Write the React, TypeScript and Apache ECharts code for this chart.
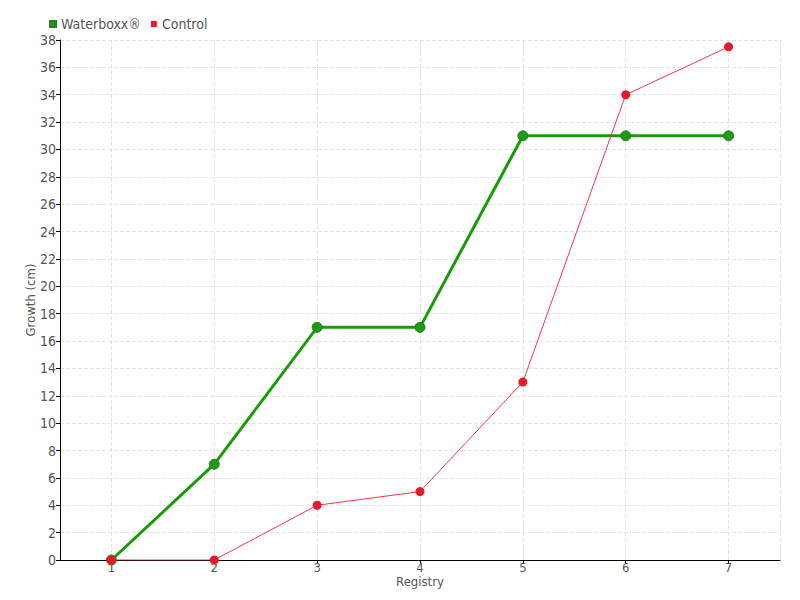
import React, { useEffect, useRef } from "react";
import * as echarts from "echarts";

const registries = [1, 2, 3, 4, 5, 6, 7];
const waterboxx = [0, 7, 17, 17, 31, 31, 31];
const control = [0, 0, 4, 5, 13, 34, 37.5];
const seriesNames = ["Waterboxx®", "Control"];

const FONT = "'DejaVu Sans Condensed', 'Liberation Sans Narrow', sans-serif";

export default function App() {
  const ref = useRef<HTMLDivElement>(null);
  useEffect(() => {
    if (!ref.current) return;
    const chart = echarts.init(ref.current, undefined, { renderer: "svg" });
    chart.setOption({
      animation: false,
      textStyle: { fontFamily: FONT },
      legend: {
        left: 44,
        top: 12,
        itemWidth: 6,
        itemHeight: 6,
        itemGap: 10,
        icon: "rect",
        textStyle: { fontFamily: FONT, fontSize: 14, color: "#555" },
        data: seriesNames,
      },
      grid: { left: 60, right: 20, top: 40, bottom: 40 },
      xAxis: {
        type: "value",
        min: 0.5,
        max: 7.5,
        splitNumber: 7,
        name: "Registry",
        nameLocation: "middle",
        nameGap: 15,
        nameMoveOverlap: false,
        nameTextStyle: { fontFamily: FONT, fontSize: 13, color: "#555" },
        axisLine: { lineStyle: { color: "#000" } },
        axisTick: { show: true, length: 4, inside: false, lineStyle: { color: "#000" } },
        axisLabel: {
          showMinLabel: false,
          showMaxLabel: false,
          margin: 1,
          fontFamily: FONT,
          fontSize: 13,
          color: "#555",
          formatter: (v: number) => (Number.isInteger(v) ? String(v) : ""),
        },
        splitLine: { show: true, lineStyle: { color: "#e4e4e4", type: "dashed" } },
      },
      yAxis: {
        type: "value",
        min: 0,
        max: 38,
        interval: 2,
        name: "Growth (cm)",
        nameLocation: "middle",
        nameGap: 23,
        nameMoveOverlap: false,
        nameTextStyle: { fontFamily: FONT, fontSize: 13, color: "#555" },
        axisLine: { show: true, lineStyle: { color: "#000" } },
        axisTick: { show: true, length: 4, lineStyle: { color: "#000" } },
        axisLabel: { margin: 4, fontFamily: FONT, fontSize: 14, color: "#555" },
        splitLine: { show: true, lineStyle: { color: "#e4e4e4", type: "dashed" } },
      },
      series: [
        {
          name: seriesNames[0],
          type: "line",
          data: registries.map((r, i) => [r, waterboxx[i]]),
          symbol: "circle",
          symbolSize: 10,
          lineStyle: { color: "#1a9c0a", width: 3 },
          itemStyle: { color: "#1f9a14", borderColor: "#2c7a22", borderWidth: 1 },
          z: 2,
        },
        {
          name: seriesNames[1],
          type: "line",
          data: registries.map((r, i) => [r, control[i]]),
          symbol: "circle",
          symbolSize: 9,
          lineStyle: { color: "#f0384a", width: 1 },
          itemStyle: { color: "#e8192c" },
          z: 3,
        },
      ],
    });
    return () => chart.dispose();
  }, []);
  return <div ref={ref} style={{ width: 800, height: 600, position: "absolute", left: 0, top: 0 }} />;
}
